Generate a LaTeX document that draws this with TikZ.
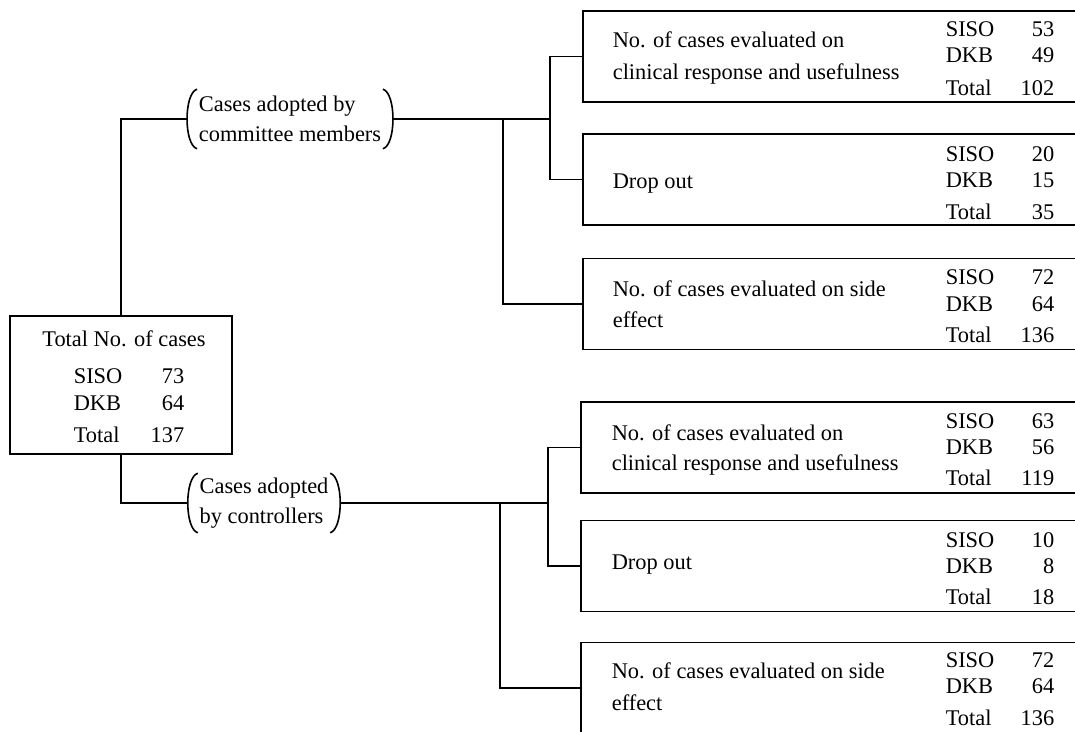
\documentclass[tikz,border=0pt]{standalone}
\usepackage{fontspec}
\setmainfont{Liberation Serif}
\begin{document}
\begin{tikzpicture}[x=0.5pt,y=-0.5pt,line width=0.8pt,
  font=\fontsize{11.2}{15}\selectfont,
  rbox/.style={draw,anchor=west,inner sep=0pt,minimum width=260pt,minimum height=45.5pt},
  paren/.style={align=left,inner xsep=5.5pt,inner ysep=0pt,minimum height=29pt},
  txt/.style={inner sep=0pt}]
\useasboundingbox (0,0) rectangle (1075,732);
\clip (0,0) rectangle (1075,732);
% left box
\node[draw,minimum width=111pt,minimum height=69pt] (tot) at (121,385) {};
\node[txt,anchor=base] (tottitle) at (124,347) {Total No. of cases};
\foreach \lab/\num/\y in {SISO/73/384,DKB/64/410,Total/137/442}{
  \node[txt,anchor=base west] (tl\y) at (73,\y) {\lab};
  \node[txt,anchor=base east] (tv\y) at (185,\y) {\num};
}
% the two groups
\node[paren] (cm) at (290,119) {Cases adopted by\\committee members};
\node[paren] (ctl) at (264,503) {Cases adopted\\by controllers};
\draw ([xshift=5pt]cm.north west) .. controls ([xshift=-1.7pt,yshift=-2pt]cm.north west) and ([xshift=-1.7pt,yshift=2pt]cm.south west) .. ([xshift=5pt]cm.south west);
\draw ([xshift=-5pt]cm.north east) .. controls ([xshift=1.7pt,yshift=-2pt]cm.north east) and ([xshift=1.7pt,yshift=2pt]cm.south east) .. ([xshift=-5pt]cm.south east);
\draw ([xshift=5pt]ctl.north west) .. controls ([xshift=-1.7pt,yshift=-2pt]ctl.north west) and ([xshift=-1.7pt,yshift=2pt]ctl.south west) .. ([xshift=5pt]ctl.south west);
\draw ([xshift=-5pt]ctl.north east) .. controls ([xshift=1.7pt,yshift=-2pt]ctl.north east) and ([xshift=1.7pt,yshift=2pt]ctl.south east) .. ([xshift=-5pt]ctl.south east);
% right boxes
\node[rbox] (b1) at (582,56.5) {};
\node[rbox] (b2) at (582,179.5) {};
\node[rbox] (b3) at (582,304) {};
\node[rbox] (b4) at (580,447.5) {};
\node[rbox] (b5) at (580,566) {};
\node[rbox] (b6) at (580,688) {};
\node[txt,anchor=base west] (t1a) at (612,48) {No. of cases evaluated on};
\node[txt,anchor=base west] (t1b) at (612,80) {clinical response and usefulness};
\node[txt,anchor=base west] (t2) at (612,189) {Drop out};
\node[txt,anchor=base west] (t3a) at (612,297) {No. of cases evaluated on side};
\node[txt,anchor=base west] (t3b) at (612,328) {effect};
\node[txt,anchor=base west] (t4a) at (611,440) {No. of cases evaluated on};
\node[txt,anchor=base west] (t4b) at (611,470) {clinical response and usefulness};
\node[txt,anchor=base west] (t5) at (611,569) {Drop out};
\node[txt,anchor=base west] (t6a) at (611,678) {No. of cases evaluated on side};
\node[txt,anchor=base west] (t6b) at (611,710) {effect};
\foreach \lab/\num/\y in {SISO/53/37,DKB/49/63,Total/102/96,SISO/20/162,DKB/15/188,Total/35/220,
  SISO/72/285,DKB/64/312,Total/136/343,SISO/63/428,DKB/56/454,Total/119/485,
  SISO/10/547,DKB/8/573,Total/18/604,SISO/72/667,DKB/64/693,Total/136/725}{
  \node[txt,anchor=base west] (l\y) at (945,\y) {\lab};
  \node[txt,anchor=base east] (v\y) at (1055,\y) {\num};
}
% connectors
\coordinate (j1) at (550,119);
\coordinate (j2) at (503,119);
\coordinate (j3) at (548,503);
\coordinate (j4) at (500,503);
\draw (tot.north) |- (cm.west);
\draw (tot.south) |- (ctl.west);
\draw (cm.east) -- (j1);
\draw (b1.west) -| (j1) |- (b2.west);
\draw (j2) |- (b3.west);
\draw (ctl.east) -- (j3);
\draw (b4.west) -| (j3) |- (b5.west);
\draw (j4) |- (b6.west);
\end{tikzpicture}
\end{document}
